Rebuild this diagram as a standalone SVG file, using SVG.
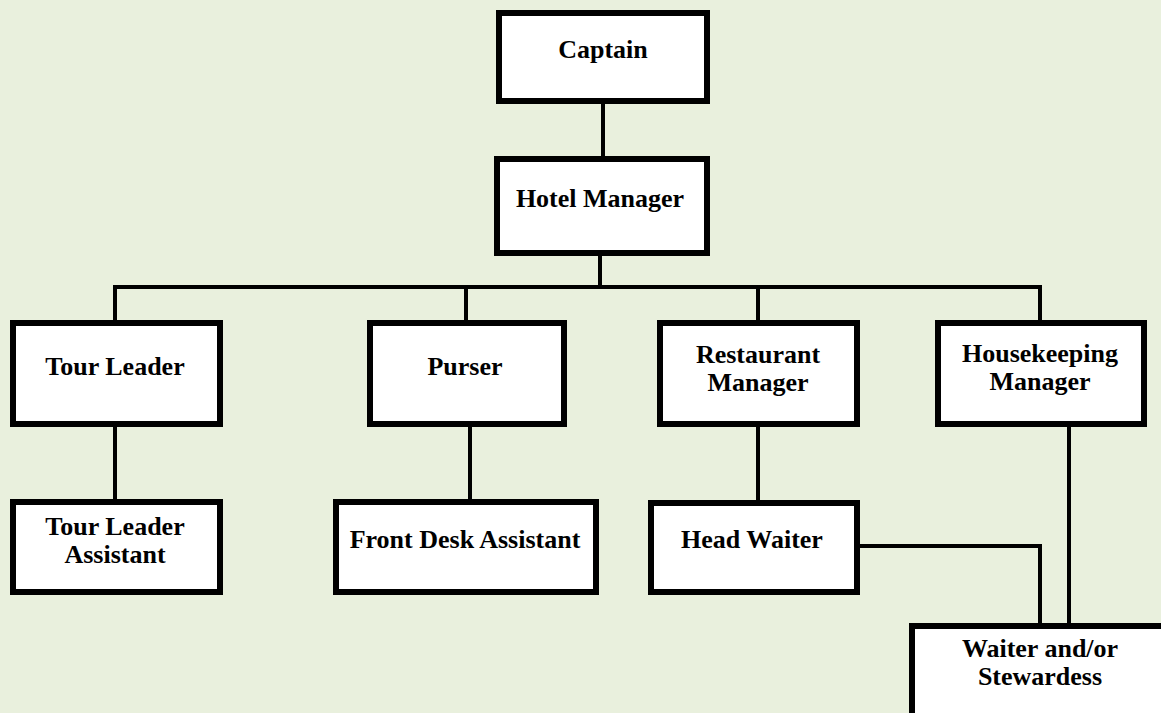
<svg xmlns="http://www.w3.org/2000/svg" width="1161" height="713" viewBox="0 0 1161 713">
<style>
.box{fill:#ffffff;stroke:#000000;stroke-width:6}
.lbl{font-family:"Liberation Serif","Times New Roman",serif;font-weight:bold;font-size:26px;fill:#000000;text-anchor:middle}
.con{fill:none;stroke:#000000;stroke-width:4}
</style>
<rect x="0" y="0" width="1161" height="713" fill="#e9f0dd"/>
<g id="connectors">
<line class="con" x1="603" y1="104" x2="603" y2="156"/>
<line class="con" x1="600" y1="256" x2="600" y2="287"/>
<polyline class="con" points="115,320 115,287 1040,287 1040,320"/>
<line class="con" x1="466" y1="287" x2="466" y2="320"/>
<line class="con" x1="758" y1="287" x2="758" y2="320"/>
<line class="con" x1="115" y1="427" x2="115" y2="499"/>
<line class="con" x1="470" y1="427" x2="470" y2="499"/>
<line class="con" x1="758" y1="427" x2="758" y2="500"/>
<polyline class="con" points="860,546 1040,546 1040,623"/>
<line class="con" x1="1069" y1="427" x2="1069" y2="623"/>
</g>
<g id="captain"><rect class="box" x="499" y="13" width="208" height="88"/><text class="lbl" x="603" y="58">Captain</text></g>
<g id="hotel-manager"><rect class="box" x="497" y="159" width="210" height="94"/><text class="lbl" x="600" y="207">Hotel Manager</text></g>
<g id="tour-leader"><rect class="box" x="13" y="323" width="207" height="101"/><text class="lbl" x="115" y="375">Tour Leader</text></g>
<g id="purser"><rect class="box" x="370" y="323" width="194" height="101"/><text class="lbl" x="465" y="375">Purser</text></g>
<g id="restaurant-manager"><rect class="box" x="660" y="323" width="197" height="101"/><text class="lbl" x="758" y="363">Restaurant</text><text class="lbl" x="758" y="391">Manager</text></g>
<g id="housekeeping-manager"><rect class="box" x="938" y="323" width="206" height="101"/><text class="lbl" x="1040" y="362">Housekeeping</text><text class="lbl" x="1040" y="390">Manager</text></g>
<g id="tour-leader-assistant"><rect class="box" x="13" y="502" width="207" height="90"/><text class="lbl" x="115" y="535">Tour Leader</text><text class="lbl" x="115" y="563">Assistant</text></g>
<g id="front-desk-assistant"><rect class="box" x="336" y="502" width="260" height="90"/><text class="lbl" x="465" y="548">Front Desk Assistant</text></g>
<g id="head-waiter"><rect class="box" x="651" y="503" width="206" height="89"/><text class="lbl" x="752" y="548">Head Waiter</text></g>
<g id="waiter-stewardess"><rect class="box" x="912" y="626" width="270" height="110"/><text class="lbl" x="1040" y="657">Waiter and/or</text><text class="lbl" x="1040" y="685">Stewardess</text></g>
</svg>
